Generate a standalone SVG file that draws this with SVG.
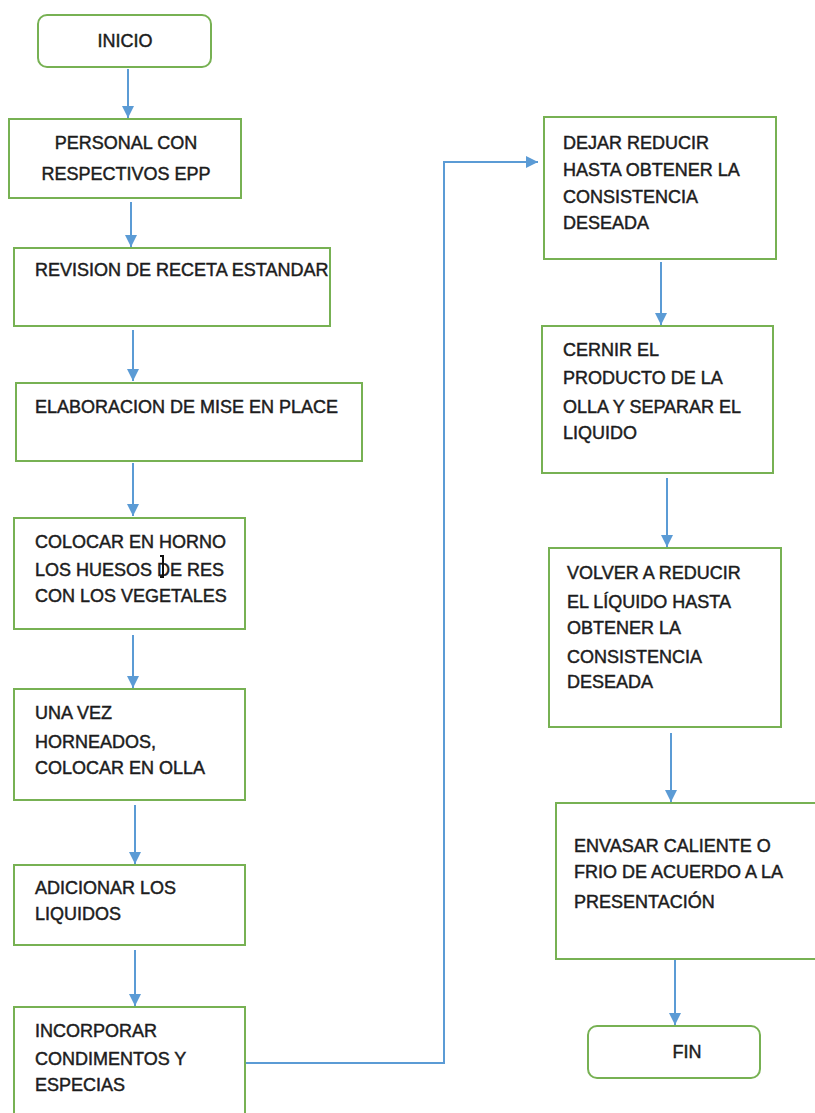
<svg xmlns="http://www.w3.org/2000/svg" width="815" height="1113" viewBox="0 0 815 1113">
<defs>
<style>
.box{fill:#fff;stroke:#77b153;stroke-width:2}
.t{font-family:"Liberation Sans",Arial,sans-serif;font-size:18px;fill:#1c1c1c;stroke:#1c1c1c;stroke-width:0.45}
.c{text-anchor:middle}
.ln{fill:none;stroke:#5b9bd5;stroke-width:2}
</style>
<marker id="ah" markerUnits="userSpaceOnUse" markerWidth="12" markerHeight="12" refX="12" refY="6" orient="auto">
<path d="M0,0 L12,6 L0,12 z" fill="#5b9bd5"/>
</marker>
</defs>
<rect width="815" height="1113" fill="#fff"/>
<g id="connectors">
<line class="ln" x1="128" y1="69" x2="128" y2="118" marker-end="url(#ah)"/>
<line class="ln" x1="131" y1="202" x2="131" y2="247" marker-end="url(#ah)"/>
<line class="ln" x1="133" y1="330" x2="133" y2="381" marker-end="url(#ah)"/>
<line class="ln" x1="133" y1="463" x2="133" y2="516" marker-end="url(#ah)"/>
<line class="ln" x1="133" y1="635" x2="133" y2="688" marker-end="url(#ah)"/>
<line class="ln" x1="135" y1="805" x2="135" y2="864" marker-end="url(#ah)"/>
<line class="ln" x1="135" y1="950" x2="135" y2="1006" marker-end="url(#ah)"/>
<polyline class="ln" points="246,1063 444,1063 444,162 538,162" marker-end="url(#ah)"/>
<line class="ln" x1="661" y1="262" x2="661" y2="325" marker-end="url(#ah)"/>
<line class="ln" x1="667" y1="478" x2="667" y2="547" marker-end="url(#ah)"/>
<line class="ln" x1="671" y1="733" x2="671" y2="802" marker-end="url(#ah)"/>
<line class="ln" x1="675" y1="955" x2="675" y2="1025" marker-end="url(#ah)"/>
</g>
<g id="n-inicio">
<rect class="box" x="38" y="15" width="173" height="52" rx="9"/>
<text class="t c" x="125" y="47">INICIO</text>
</g>
<g id="n-personal">
<rect class="box" x="9" y="119" width="232" height="79"/>
<text class="t c" x="126" y="149">PERSONAL CON</text>
<text class="t c" x="126" y="180">RESPECTIVOS EPP</text>
</g>
<g id="n-revision">
<rect class="box" x="14" y="248" width="316" height="78"/>
<text class="t" x="35" y="276">REVISION DE RECETA ESTANDAR</text>
</g>
<g id="n-elaboracion">
<rect class="box" x="16" y="383" width="346" height="78"/>
<text class="t" x="35" y="413">ELABORACION DE MISE EN PLACE</text>
</g>
<g id="n-colocar">
<rect class="box" x="14" y="518" width="231" height="111"/>
<text class="t" x="35" y="548">COLOCAR EN HORNO</text>
<text class="t" x="35" y="576">LOS HUESOS DE RES</text>
<text class="t" x="35" y="602">CON LOS VEGETALES</text>
<path d="M160,556 h3 v21 h-3" fill="none" stroke="#111" stroke-width="2"/>
</g>
<g id="n-unavez">
<rect class="box" x="14" y="689" width="231" height="111"/>
<text class="t" x="35" y="719">UNA VEZ</text>
<text class="t" x="35" y="748">HORNEADOS,</text>
<text class="t" x="35" y="774">COLOCAR EN OLLA</text>
</g>
<g id="n-adicionar">
<rect class="box" x="14" y="865" width="231" height="80"/>
<text class="t" x="35" y="894">ADICIONAR LOS</text>
<text class="t" x="35" y="920">LIQUIDOS</text>
</g>
<g id="n-incorporar">
<rect class="box" x="14" y="1007" width="231" height="120"/>
<text class="t" x="35" y="1037">INCORPORAR</text>
<text class="t" x="35" y="1065">CONDIMENTOS Y</text>
<text class="t" x="35" y="1091">ESPECIAS</text>
</g>
<g id="n-dejar">
<rect class="box" x="544" y="117" width="232" height="142"/>
<text class="t" x="563" y="149">DEJAR REDUCIR</text>
<text class="t" x="563" y="176">HASTA OBTENER LA</text>
<text class="t" x="563" y="203">CONSISTENCIA</text>
<text class="t" x="563" y="229">DESEADA</text>
</g>
<g id="n-cernir">
<rect class="box" x="542" y="326" width="231" height="147"/>
<text class="t" x="563" y="356">CERNIR EL</text>
<text class="t" x="563" y="384">PRODUCTO DE LA</text>
<text class="t" x="563" y="413">OLLA Y SEPARAR EL</text>
<text class="t" x="563" y="439">LIQUIDO</text>
</g>
<g id="n-volver">
<rect class="box" x="549" y="548" width="232" height="179"/>
<text class="t" x="567" y="579">VOLVER A REDUCIR</text>
<text class="t" x="567" y="608">EL LÍQUIDO HASTA</text>
<text class="t" x="567" y="634">OBTENER LA</text>
<text class="t" x="567" y="663">CONSISTENCIA</text>
<text class="t" x="567" y="688">DESEADA</text>
</g>
<g id="n-envasar">
<rect class="box" x="556" y="803" width="264" height="156"/>
<text class="t" x="574" y="852">ENVASAR CALIENTE O</text>
<text class="t" x="574" y="878">FRIO DE ACUERDO A LA</text>
<text class="t" x="574" y="908">PRESENTACIÓN</text>
</g>
<g id="n-fin">
<rect class="box" x="588" y="1026" width="172" height="52" rx="9"/>
<text class="t c" x="687" y="1058">FIN</text>
</g>
</svg>
